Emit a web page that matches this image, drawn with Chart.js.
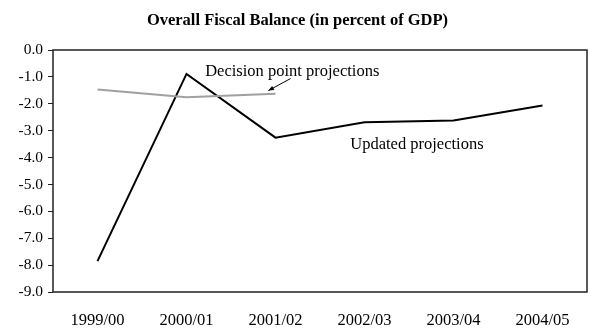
<!DOCTYPE html>
<html>
<head>
<meta charset="utf-8">
<script src="https://cdn.jsdelivr.net/npm/chart.js@4"></script>
<style>
  html, body { margin: 0; padding: 0; background: #fff; }
  #wrap { width: 595px; height: 330px; }
</style>
</head>
<body>
<div id="wrap"><canvas id="fiscal-chart"></canvas></div>
<script>
// Chart data
const years = ['1999/00', '2000/01', '2001/02', '2002/03', '2003/04', '2004/05'];
const updatedProjections = [-7.85, -0.89, -3.26, -2.69, -2.62, -2.06];
const decisionPointProjections = [-1.47, -1.76, -1.63, null, null, null];
const yTicks = [0, -1, -2, -3, -4, -5, -6, -7, -8, -9];

const serif = '"Liberation Serif", "Times New Roman", serif';

// Function to draw title, box and callout labels
const decorPlugin = {
  id: 'decor',
  afterDraw(chart) {
    const ctx = chart.ctx;
    const area = chart.chartArea;
    const x = chart.scales.x;
    const y = chart.scales.y;

    ctx.save();
    // Title
    ctx.fillStyle = '#000';
    ctx.font = 'bold 16.5px ' + serif;
    ctx.textAlign = 'center';
    ctx.textBaseline = 'alphabetic';
    ctx.fillText('Overall Fiscal Balance (in percent of GDP)', chart.width / 2, 25);

    // Plot box
    ctx.strokeStyle = '#222';
    ctx.lineWidth = 1.5;
    ctx.strokeRect(area.left, area.top, area.right - area.left, area.bottom - area.top);

    // Callout labels
    ctx.font = '16.5px ' + serif;
    ctx.textAlign = 'left';
    ctx.fillText('Decision point projections', x.getPixelForValue(1.21), y.getPixelForValue(-0.95));
    ctx.fillText('Updated projections', x.getPixelForValue(2.84), y.getPixelForValue(-3.7));

    // Arrow
    const x1 = x.getPixelForValue(2.17), y1 = y.getPixelForValue(-1.06);
    const x2 = x.getPixelForValue(1.92), y2 = y.getPixelForValue(-1.51);
    ctx.strokeStyle = '#000';
    ctx.lineWidth = 1;
    ctx.beginPath();
    ctx.moveTo(x1, y1);
    ctx.lineTo(x2, y2);
    ctx.stroke();
    const ang = Math.atan2(y2 - y1, x2 - x1);
    ctx.beginPath();
    ctx.moveTo(x2, y2);
    ctx.lineTo(x2 - 6 * Math.cos(ang - 0.4), y2 - 6 * Math.sin(ang - 0.4));
    ctx.lineTo(x2 - 6 * Math.cos(ang + 0.4), y2 - 6 * Math.sin(ang + 0.4));
    ctx.closePath();
    ctx.fill();
    ctx.restore();
  },
};

new Chart(document.getElementById('fiscal-chart').getContext('2d'), {
  type: 'line',
  data: {
    labels: years,
    datasets: [
      {
        label: 'Decision point projections',
        data: decisionPointProjections,
        borderColor: '#a0a0a0',
        borderWidth: 2,
        pointRadius: 0,
        tension: 0,
      },
      {
        label: 'Updated projections',
        data: updatedProjections,
        borderColor: '#000',
        borderWidth: 2,
        pointRadius: 0,
        tension: 0,
      },
    ],
  },
  options: {
    responsive: true,
    maintainAspectRatio: false,
    animation: false,
    layout: { padding: { top: 50, right: 8, left: 0, bottom: 0 } },
    plugins: {
      legend: { display: false },
      title: { display: false },
      tooltip: { enabled: false },
    },
    scales: {
      x: {
        offset: true,
        grid: { display: false },
        border: { display: false },
        ticks: { color: '#000', font: { family: serif, size: 16.5 }, maxRotation: 0, padding: 11 },
        afterFit(s) { s.height = 38; },
      },
      y: {
        min: -9,
        max: 0,
        afterBuildTicks(s) { s.ticks = yTicks.map((v) => ({ value: v })); },
        grid: { drawOnChartArea: false, drawTicks: true, tickLength: 5, color: '#222' },
        border: { display: false },
        ticks: {
          color: '#000',
          font: { family: serif, size: 15.5 },
          padding: 5,
          callback: (v) => v.toFixed(1),
        },
        afterFit(s) { s.width = 53; },
      },
    },
  },
  plugins: [decorPlugin],
});
</script>
</body>
</html>
